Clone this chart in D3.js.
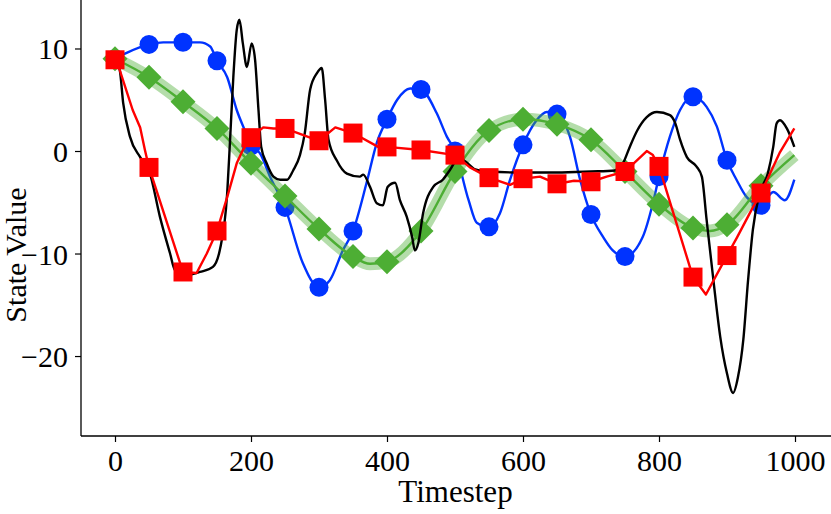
<!DOCTYPE html>
<html>
<head>
<meta charset="utf-8">
<script src="https://cdn.jsdelivr.net/npm/d3@7"></script>
<style>
  html, body { margin: 0; padding: 0; background: #fff; }
  svg { display: block; }
  text { font-family: "Liberation Serif", "Times New Roman", serif; fill: #000; }
</style>
</head>
<body>
<svg id="chart" width="831" height="514"></svg>
<script>
// ---- data ----
const xTicks = [0, 200, 400, 600, 800, 1000];
const yTicks = [-20, -10, 0, 10];
const xLabel = "Timestep";
const yLabel = "State Value";

const blackT = [0,7,12,22,37,51,66,81,88,106,125,144,154,165,169,174,179,183,188,194,201,206,211,215,223,233,243,253,262,272,279,287,297,304,309,314,326,341,360,365,375,385,394,401,412,419,429,437,441,446,453,468,482,493,505,515,530,550,600,650,700,735,747,757,768,782,797,816,824,831,841,855,863,870,880,890,900,909,916,924,931,938,948,960,968,973,978,988,999];
const blackV = [9.0,7.9,4.7,1.4,-0.6,-2.1,-6.4,-10.0,-11.6,-12.1,-11.8,-11.3,-9.7,-4.1,0.8,7.2,11.8,12.8,10.5,8.2,10.5,8.9,4.0,0.4,-1.2,-2.5,-2.8,-2.8,-1.9,-0.4,1.7,6.0,7.6,8.1,5.0,1.1,-0.9,-2.2,-2.5,-2.3,-3.5,-5.1,-5.3,-3.5,-3.1,-4.8,-6.4,-8.4,-9.7,-9.0,-6.1,-3.5,-2.8,-1.8,-0.7,-1.0,-1.8,-2.0,-2.1,-2.1,-2.0,-1.9,-1.2,0.4,2.0,3.3,3.8,3.5,2.7,1.1,-0.6,-1.5,-2.5,-6.7,-12.6,-18.1,-21.7,-23.6,-22.1,-18.4,-12.6,-7.7,-4.1,-2.2,0.4,2.7,3.0,2.2,0.4];

const blueT = [0,18,50,71,100,125,140,150,165,179,191,200,213,228,250,276,300,316,335,350,370,385,400,415,434,450,473,488,500,520,532,550,566,581,600,620,635,650,669,684,700,718,732,750,776,791,800,816,831,850,870,885,900,914,929,950,968,985,999];
const blueV = [9.0,9.6,10.4,10.6,10.6,10.6,10.2,8.8,7.2,4.0,2.0,0.5,-0.2,-2.5,-5.5,-10.9,-13.3,-12.6,-9.7,-7.8,-3.1,0.8,3.1,5.0,6.1,6.0,3.7,1.4,0.0,-4.8,-7.0,-7.4,-6.1,-2.8,0.6,3.0,3.8,3.6,1.4,-2.8,-6.2,-8.4,-9.7,-10.3,-8.4,-5.1,-2.5,1.4,4.0,5.3,4.3,2.4,-0.9,-2.8,-4.5,-5.3,-4.0,-4.8,-2.8];

const redT = [0,7,26,37,44,50,100,120,135,150,165,179,188,200,218,233,250,300,324,350,387,400,450,500,522,550,581,600,625,650,675,700,723,750,782,791,800,850,869,900,915,938,950,978,999];
const redV = [8.9,7.9,4.0,2.3,0.1,-1.6,-11.8,-11.9,-10.0,-7.8,-4.5,-1.2,0.1,1.3,2.3,2.2,2.2,1.0,2.3,1.75,0.4,0.4,0.1,-0.4,-1.6,-2.6,-3.3,-2.7,-2.5,-3.2,-2.9,-3.0,-2.5,-2.0,0.0,-0.4,-1.5,-12.3,-14.0,-10.2,-8.4,-5.5,-4.1,-0.1,2.2];

const greenT = [0,50,100,150,200,250,300,350,375,400,450,500,550,600,650,700,750,800,850,875,900,950,999];
const greenV = [9.0,7.2,4.8,2.2,-1.2,-4.4,-7.6,-10.3,-11.0,-10.8,-7.8,-2.0,2.0,3.1,2.6,1.1,-2.0,-5.2,-7.5,-7.8,-7.2,-3.4,-0.4];

const markerEvery = 50;

// ---- layout ----
const svg = d3.select("#chart");
const x = d3.scaleLinear().domain([-50, 1050]).range([81, 829]);
const y = d3.scaleLinear().domain([-27.8, 14.73]).range([436, 0]);

const zip = (T, V) => T.map((t, i) => ({t, v: V[i]}));
const black = zip(blackT, blackV);
const blue = zip(blueT, blueV);
const red = zip(redT, redV);
const green = zip(greenT, greenV);

const lineSmooth = d3.line().x(d => x(d.t)).y(d => y(d.v)).curve(d3.curveMonotoneX);
const lineLin = d3.line().x(d => x(d.t)).y(d => y(d.v));

const COL_BLUE = "#0033ff", COL_RED = "#ff0000", COL_GREEN = "#4dae34";

// blue (bottom)
svg.append("path").attr("d", lineSmooth(blue)).attr("fill", "none")
  .attr("stroke", COL_BLUE).attr("stroke-width", 2.4).attr("stroke-linejoin", "round");
svg.selectAll(".bm").data(blue.filter(d => d.t % markerEvery === 0)).enter()
  .append("circle").attr("cx", d => x(d.t)).attr("cy", d => y(d.v)).attr("r", 9.5)
  .attr("fill", COL_BLUE);

// green band + line + diamonds
svg.append("path").attr("d", lineSmooth(green)).attr("fill", "none")
  .attr("stroke", COL_GREEN).attr("stroke-opacity", 0.42).attr("stroke-width", 13)
  .attr("stroke-linejoin", "round");
svg.append("path").attr("d", lineSmooth(green)).attr("fill", "none")
  .attr("stroke", COL_GREEN).attr("stroke-width", 2.4);
const dh = 12.5;
svg.selectAll(".gm").data(green.filter(d => d.t % markerEvery === 0)).enter()
  .append("path")
  .attr("d", `M0,${-dh}L${dh},0L0,${dh}L${-dh},0Z`)
  .attr("transform", d => `translate(${x(d.t)},${y(d.v)})`)
  .attr("fill", COL_GREEN);

// black
svg.append("path").attr("d", lineSmooth(black)).attr("fill", "none")
  .attr("stroke", "#000").attr("stroke-width", 2.4).attr("stroke-linejoin", "round");

// red
svg.append("path").attr("d", lineLin(red)).attr("fill", "none")
  .attr("stroke", COL_RED).attr("stroke-width", 2.4).attr("stroke-linejoin", "round");
const sq = 19;
svg.selectAll(".rm").data(red.filter(d => d.t % markerEvery === 0)).enter()
  .append("rect").attr("x", d => x(d.t) - sq/2).attr("y", d => y(d.v) - sq/2)
  .attr("width", sq).attr("height", sq).attr("fill", COL_RED);

// ---- axes ----
const fmt = d3.format("d");
const xAxis = d3.axisBottom(x).tickValues(xTicks).tickFormat(fmt).tickSize(6).tickPadding(8).tickSizeOuter(0);
const gx = svg.append("g").attr("transform", "translate(0,436)").call(xAxis);
gx.select(".domain").attr("d", "M81,0H831").attr("stroke-width", 1.3);
gx.selectAll(".tick line").attr("stroke-width", 1.2);
gx.selectAll(".tick text").attr("font-size", 30).attr("font-family", "Liberation Serif")
  .attr("fill", "#000").attr("dy", null).attr("y", 35);

const yAxis = d3.axisLeft(y).tickValues(yTicks).tickFormat(fmt).tickSize(6).tickPadding(8).tickSizeOuter(0);
const gy = svg.append("g").attr("transform", "translate(81,0)").call(yAxis);
gy.select(".domain").attr("d", "M0,0V436").attr("stroke-width", 1.3);
gy.selectAll(".tick line").attr("stroke-width", 1.2);
gy.selectAll(".tick text").attr("font-size", 30).attr("font-family", "Liberation Serif")
  .attr("fill", "#000").attr("dy", null).attr("y", 10.5).attr("x", -13);

svg.append("text").attr("x", 455.5).attr("y", 502).attr("text-anchor", "middle")
  .attr("font-size", 31).text(xLabel);
svg.append("text").attr("transform", "translate(26,255) rotate(-90)")
  .attr("text-anchor", "middle").attr("font-size", 30).text(yLabel);
</script>
</body>
</html>
